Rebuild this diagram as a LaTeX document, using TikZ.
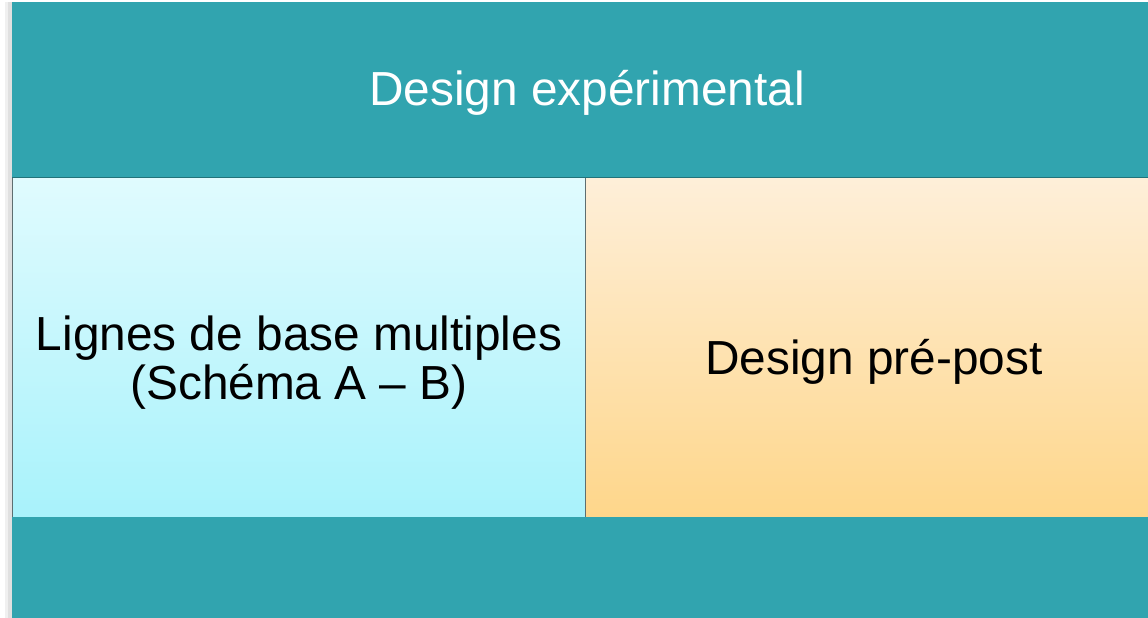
\documentclass[tikz,border=0pt]{standalone}
\usepackage{fontspec}
\setmainfont{Liberation Sans}
\definecolor{teal1}{HTML}{31A4AF}
\definecolor{cyanTop}{HTML}{E0FBFE}
\definecolor{cyanBot}{HTML}{A8F2FB}
\definecolor{orTop}{HTML}{FEEFD9}
\definecolor{orBot}{HTML}{FED68A}
\definecolor{edge}{HTML}{5E6E70}
\begin{document}
\begin{tikzpicture}[x=1pt,y=1pt,
  band/.style={fill=teal1,draw=none},
  txt/.style={font=\fontsize{47.8}{49}\selectfont,align=center,inner sep=0pt}]
\useasboundingbox (0,0) rectangle (1148,618);
\fill[white] (0,0) rectangle (1148,618);
% soft shadow on left
\fill[black!12] (8,0) rectangle (12,616);
\fill[black!6] (5,0) rectangle (8,616);
% header band
\fill[band] (12,440) rectangle (1148,616);
% boxes
\node[draw=edge,line width=1pt,minimum width=573,minimum height=341,inner sep=0pt,
  top color=cyanTop,bottom color=cyanBot,anchor=south west] (left) at (12,99) {};
\node[draw=edge,line width=1pt,minimum width=563,minimum height=341,inner sep=0pt,
  top color=orTop,bottom color=orBot,anchor=south west] (right) at (585,99) {};
\draw[teal1!70!black,line width=1pt] (12,440) -- (1148,440);
% footer band
\fill[band] (12,0) rectangle (1148,101);
% texts
\node[txt,text=white] (title) at (587,525) {Design expérimental};
\node[txt] (lt) at (299,255) {Lignes de base multiples\\(Schéma A – B)};
\node[txt] (rt) at (874,256) {Design pré-post};
\end{tikzpicture}
\end{document}
